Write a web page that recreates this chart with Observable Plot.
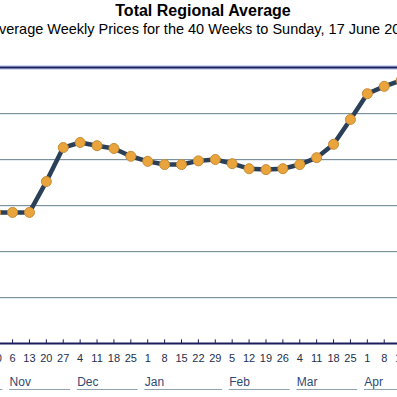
<!DOCTYPE html>
<html><head><meta charset="utf-8">
<script src="https://cdn.jsdelivr.net/npm/d3@7"></script>
<script src="https://cdn.jsdelivr.net/npm/@observablehq/plot@0.6"></script>
<style>
html,body{margin:0;padding:0;background:#fff;overflow:hidden;width:397px;height:397px}
#wrap{position:relative;width:397px;height:397px;overflow:hidden;font-family:"Liberation Sans",Arial,sans-serif}
#hdr{position:relative;height:45px;overflow:hidden}
.c{position:absolute;left:-197px;width:800px;text-align:center;white-space:nowrap}
#t{top:2px;font-size:16px;font-weight:bold;line-height:18px;color:#000}
#s{top:21px;font-size:14.5px;line-height:17px;color:#000}
</style></head><body>
<div id="wrap">
<div id="hdr"><div class="c" id="t">Total Regional Average</div><div class="c" id="s">Average Weekly Prices for the 40 Weeks to Sunday, 17 June 2012</div></div>
<div id="chart"></div>
</div>
<script>
// Week-ending Sundays (visible part of the 40 weeks)
const weeks = ["2011-10-30","2011-11-06","2011-11-13","2011-11-20","2011-11-27",
  "2011-12-04","2011-12-11","2011-12-18","2011-12-25",
  "2012-01-01","2012-01-08","2012-01-15","2012-01-22","2012-01-29",
  "2012-02-05","2012-02-12","2012-02-19","2012-02-26",
  "2012-03-04","2012-03-11","2012-03-18","2012-03-25",
  "2012-04-01","2012-04-08","2012-04-15"];
// Average weekly price, in gridline units (y-axis labels are not visible)
const prices = [2.85,2.85,2.85,3.52,4.26,
  4.37,4.30,4.24,4.07,
  3.96,3.89,3.89,3.97,4.00,
  3.91,3.80,3.78,3.80,
  3.89,4.04,4.33,4.87,
  5.43,5.59,5.72];
const monthNames = ["Oct","Nov","Dec","Jan","Feb","Mar","Apr"];
const monthFirst = ["2011-10-02","2011-11-06","2011-12-04","2012-01-01","2012-02-05","2012-03-04","2012-04-01"];
const monthLast  = ["2011-10-30","2011-11-27","2011-12-25","2012-01-29","2012-02-26","2012-03-25","2012-04-29"];
const gridValues = [1,2,3,4,5];
const xDomain = ["2011-11-01","2012-04-13T12:00"];

const P = s => new Date(s + (s.length > 10 ? "Z" : "T00:00Z"));
const DAY = 864e5;
const data = weeks.map((w,i) => ({date: P(w), price: prices[i]}));
const months = monthNames.map((m,i) => ({name: m, first: P(monthFirst[i]), last: P(monthLast[i])}));
const tickDates = weeks.map(P);

const navy = "#1b1d5c";
const chart = Plot.plot({
  width: 397, height: 352,
  marginLeft: 0, marginRight: 0, marginTop: 22, marginBottom: 54,
  style: {fontFamily: "'Liberation Sans', Arial, sans-serif", background: "#fff"},
  x: {type: "utc", domain: xDomain.map(P), axis: null},
  y: {domain: [0, 6], axis: null},
  marks: [
    Plot.ruleY(gridValues, {stroke: "#e2ecf2", dy: 1}),
    Plot.ruleY(gridValues, {stroke: "#7e919b", strokeWidth: 1}),
    Plot.ruleY([6], {stroke: "#cdd9f2", strokeWidth: 5}),
    Plot.ruleY([6], {stroke: navy, strokeWidth: 2}),
    Plot.ruleY([0], {stroke: navy, strokeWidth: 2}),
    Plot.ruleX(tickDates, {x: d => d, y1: 0, y2: 0.08, stroke: navy, strokeWidth: 1}),
    Plot.text(tickDates, {x: d => d, y: () => 0, text: d => String(d.getUTCDate()), dy: 15, fontSize: 11, fill: "#25304e"}),
    Plot.text(months, {x: "first", y: () => 0, text: "name", dx: -3, dy: 39, textAnchor: "start", fontSize: 12, fill: "#2f4a72"}),
    Plot.ruleY(months, {y: () => 0, x1: d => new Date(+d.first - 1.2*DAY), x2: d => new Date(+d.last + 3*DAY), dy: 46, stroke: "#8fa3ae", strokeWidth: 1}),
    Plot.line(data, {x: "date", y: "price", stroke: "#2a4059", strokeWidth: 4.5, strokeLinejoin: "round", clip: true}),
    Plot.dot(data, {x: "date", y: "price", r: 5, fill: "#e9a53c", stroke: "#c88a35", strokeWidth: 1, clip: true})
  ]
});
document.getElementById("chart").appendChild(chart);
</script>
</body></html>
